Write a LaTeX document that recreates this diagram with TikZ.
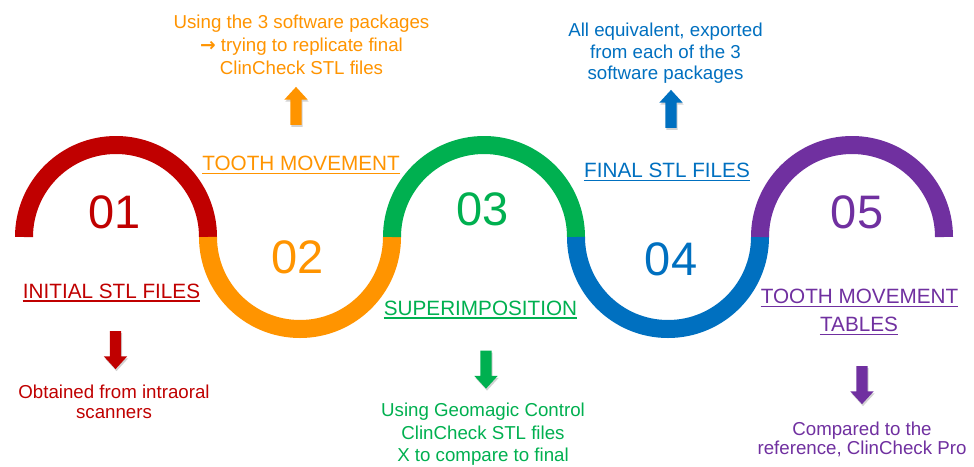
\documentclass[tikz,border=0pt]{standalone}
\usepackage{fontspec}
\setmainfont{Liberation Sans}
\newfontfamily\arrowfont{DejaVu Sans}
\usetikzlibrary{shapes.arrows,shadows}
\definecolor{cred}{HTML}{C00000}
\definecolor{corange}{HTML}{FF9400}
\definecolor{cgreen}{HTML}{00B050}
\definecolor{cblue}{HTML}{0070C0}
\definecolor{cpurple}{HTML}{7030A0}
\tikzset{
  arcline/.style={line width=18pt, line cap=butt},
  digit/.style={font=\fontsize{47}{50}\selectfont, anchor=base, inner sep=0pt},
  title/.style={font=\fontsize{20.7}{24}\selectfont, anchor=base, inner sep=0pt},
  body/.style={font=\fontsize{18.7}{22.5}\selectfont, align=center, inner sep=0pt},
  uline/.style={line width=1.3pt},
  blockarrow/.style={single arrow, draw=none, inner sep=5.5pt, minimum height=38pt,
    single arrow head extend=6pt, single arrow tip angle=85,
    drop shadow={opacity=0.35, shadow xshift=1pt, shadow yshift=-2pt}},
}
\begin{document}
\begin{tikzpicture}[x=1pt,y=-1pt]
\useasboundingbox[fill=white] (0,0) rectangle (974,466);
% wave arcs
\draw[arcline, cred] (24,237) arc[start angle=180, end angle=0, radius=92pt];
\draw[arcline, corange] (208,237) arc[start angle=180, end angle=360, radius=92pt];
\draw[arcline, cgreen] (392,237) arc[start angle=180, end angle=0, radius=92pt];
\draw[arcline, cblue] (576,237) arc[start angle=180, end angle=360, radius=92pt];
\draw[arcline, cpurple] (760,237) arc[start angle=180, end angle=0, radius=92pt];
% digits
\node[digit, text=cred] (d1) at (115,228) {01};
\node[digit, text=corange] (d2) at (298,273.5) {02};
\node[digit, text=cgreen] (d3) at (483,225.5) {03};
\node[digit, text=cblue] (d4) at (671,275) {04};
\node[digit, text=cpurple] (d5) at (857,228) {05};
% titles
\node[title, text=cred] (t1) at (111.5,298) {INITIAL STL FILES};
\node[title, text=corange] (t2) at (301,170.5) {TOOTH MOVEMENT};
\node[title, text=cgreen] (t3) at (480.5,315) {SUPERIMPOSITION};
\node[title, text=cblue] (t4) at (667,177.3) {FINAL STL FILES};
\node[title, text=cpurple] (t5) at (859.5,303.3) {TOOTH MOVEMENT};
\node[title, text=cpurple] (t5b) at (859,331.7) {TABLES};
\foreach \n/\c in {t1/cred,t2/corange,t3/cgreen,t4/cblue,t5/cpurple,t5b/cpurple}
  \draw[uline, \c] ([yshift=-3pt]\n.base west) -- ([yshift=-3pt]\n.base east);
% block arrows
\node[blockarrow, fill=cred, shape border rotate=270] (a1) at (115.5,347) {};
\node[blockarrow, fill=corange, shape border rotate=90] (a2) at (296,109) {};
\node[blockarrow, fill=cgreen, shape border rotate=270] (a3) at (486,366.5) {};
\node[blockarrow, fill=cblue, shape border rotate=90] (a4) at (671,112) {};
\node[blockarrow, fill=cpurple, shape border rotate=270] (a5) at (862,382) {};
% descriptions
\node[body, text=cred, font=\fontsize{18.7}{20}\selectfont] (b1) at (114,401.5) {Obtained from intraoral\\scanners};
\node[body, text=corange, font=\fontsize{18.7}{23}\selectfont] (b2) at (301.5,45) {Using the 3 software packages\\{\arrowfont\bfseries\fontsize{18.7}{23}\selectfont →} trying to replicate final\\ClinCheck STL files};
\node[body, text=cgreen] (b3) at (483,434.5) {Using Geomagic Control\\ClinCheck STL files\\X to compare to final};
\node[body, text=cblue, font=\fontsize{18.7}{21.5}\selectfont] (b4) at (665.5,53.5) {All equivalent, exported\\from each of the 3\\software packages};
\node[body, text=cpurple, font=\fontsize{18.7}{19.5}\selectfont] (b5) at (862,439.5) {Compared to the\\reference, ClinCheck Pro};
\end{tikzpicture}
\end{document}
